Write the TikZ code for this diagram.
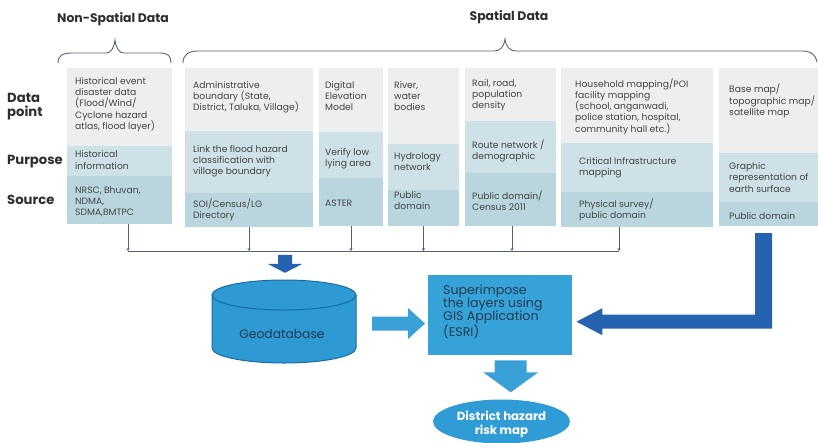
\documentclass[tikz,border=0pt]{standalone}
\usepackage{fontspec}
\setmainfont{Poppins}
\usetikzlibrary{arrows.meta,calc,fit,shapes.geometric}
\definecolor{rowA}{HTML}{ECEEEF}
\definecolor{rowB}{HTML}{CDE1E7}
\definecolor{rowC}{HTML}{B9D6DE}
\definecolor{txtgray}{HTML}{444444}
\definecolor{txtdark}{HTML}{2E2E2E}
\definecolor{linecol}{HTML}{50637A}
\definecolor{bracecol}{HTML}{5A6470}
\definecolor{dkblue}{HTML}{2563B0}
\definecolor{cylfill}{HTML}{2E9AD3}
\definecolor{cyledge}{HTML}{1A6AA6}
\definecolor{supfill}{HTML}{36A3D8}
\definecolor{ltarrow}{HTML}{39A1D7}
\definecolor{ellfill}{HTML}{2F9CD5}
\definecolor{suptext}{HTML}{24394F}

\newcommand\mkcol[6]{%
  \node[cellA, fit={(#2,68) (#3,#4)}] (#1d) {};
  \node[cellB, fit={(#2,#4) (#3,#5)}] (#1p) {};
  \node[cellC, fit={(#2,#5) (#3,#6)}] (#1s) {};
}
\newcommand\fatdown[6]{%
  \fill[#6] let \p1=(#1), \p2=(#2) in
   (\x1-#3,\y1) -- (\x1+#3,\y1) -- (\x1+#3,\y2+#5) -- (\x1+#4,\y2+#5) -- (\x1,\y2)
   -- (\x1-#4,\y2+#5) -- (\x1-#3,\y2+#5) -- cycle;}
\newcommand\fatright[6]{%
  \fill[#6] let \p1=(#1), \p2=(#2) in
   (\x1,\y1+#3) -- (\x2-#5,\y1+#3) -- (\x2-#5,\y1+#4) -- (\x2,\y1) -- (\x2-#5,\y1-#4)
   -- (\x2-#5,\y1-#3) -- (\x1,\y1-#3) -- cycle;}

\begin{document}
\begin{tikzpicture}[x=1pt,y=-1pt,
  cellA/.style={fill=rowA, inner sep=0pt, outer sep=0pt},
  cellB/.style={fill=rowB, inner sep=0pt, outer sep=0pt},
  cellC/.style={fill=rowC, inner sep=0pt, outer sep=0pt},
  txt/.style={anchor=west, align=left, inner sep=0pt, text=txtgray, font=\fontsize{9.2}{11.2}\selectfont},
  lab/.style={anchor=west, align=left, inner sep=0pt, text=txtdark, font=\bfseries\fontsize{13.2}{14}\selectfont},
  head/.style={inner sep=0pt, text=txtdark, font=\bfseries\fontsize{12.4}{13}\selectfont},
  brace/.style={draw=bracecol, line width=0.9pt},
  conn/.style={draw=linecol, line width=1pt},
  vconn/.style={draw=linecol, line width=1pt, -{Stealth[length=3pt,width=3.2pt]}},
]
\useasboundingbox (0,0) rectangle (818,442);

% headings
\node[head] (hns) at (113,19) {Non-Spatial Data};
\node[head] (hsp) at (509,17) {Spatial Data};

% braces
\draw[brace] (58,63) .. controls (58,56) and (62,53) .. (72,53) -- (106,53)
  .. controls (111,53) and (114,48) .. (115,40) .. controls (116,48) and (119,53) .. (124,53)
  -- (160,53) .. controls (168,53) and (171,56) .. (171,63);
\draw[brace] (183,63) .. controls (183,55) and (188,51) .. (198,51) -- (494,51)
  .. controls (500,51) and (504,47) .. (505,39) .. controls (506,47) and (510,51) .. (516,51)
  -- (802,51) .. controls (811,51) and (816,55) .. (817,62);

% row labels
\node[lab] (ldp) at (7,107) {Data\\point};
\node[lab] (lpu) at (7,162) {Purpose};
\node[lab] (lso) at (7,200) {Source};

% columns
\mkcol{c1}{67}{172}{146}{176}{224}
\mkcol{c2}{185}{313}{131}{193}{227}
\mkcol{c3}{319}{383}{132}{178}{226}
\mkcol{c4}{388}{459}{144}{190}{226}
\mkcol{c5}{465}{556}{121}{173}{226}
\mkcol{c6}{561}{713}{143}{192}{227}
\mkcol{c7}{719}{818}{153}{202}{226}

% column texts
\node[txt] (c1dt) at (75,104.5) {Historical event\\disaster data\\(Flood/Wind/\\Cyclone hazard\\atlas, flood layer)};
\node[txt] (c1pt) at (75,160) {Historical\\information};
\node[txt] (c1st) at (75,202) {NRSC, Bhuvan,\\NDMA,\\SDMA,BMTPC};

\node[txt] (c2dt) at (193,97) {Administrative\\boundary (State,\\District, Taluka, Village)};
\node[txt] (c2pt) at (193,161.5) {Link the flood hazard\\classification with\\village boundary};
\node[txt] (c2st) at (193,209.5) {SOI/Census/LG\\Directory};

\node[txt] (c3dt) at (325,96) {Digital\\Elevation\\Model};
\node[txt] (c3pt) at (325,158.5) {Verify low\\lying area};
\node[txt] (c3st) at (325,203) {ASTER};

\node[txt] (c4dt) at (394,96) {River,\\water\\bodies};
\node[txt] (c4pt) at (394,162) {Hydrology\\network};
\node[txt] (c4st) at (394,200.5) {Public\\domain};

\node[txt] (c5dt) at (472,95) {Rail, road,\\population\\density};
\node[txt] (c5pt) at (472,151) {Route network /\\demographic};
\node[txt] (c5st) at (472,200.5) {Public domain/\\Census 2011};

\node[txt] (c6dt) at (575,106.5) {Household mapping/POI\\facility mapping\\(school, anganwadi,\\police station, hospital,\\community hall etc.)};
\node[txt] (c6pt) at (579,168) {Critical Infrastructure\\mapping};
\node[txt] (c6st) at (579,210) {Physical survey/\\public domain};

\node[txt] (c7dt) at (729,101) {Base map/\\topographic map/\\satellite map};
\node[txt] (c7pt) at (729,177.5) {Graphic\\representation of\\earth surface};
\node[txt] (c7st) at (729,216) {Public domain};

% collector line
\coordinate (h1) at (128,251);
\coordinate (h6) at (619,251);
\draw[conn] (h1) -- (h6);
\draw[vconn] (c1s.south -| h1) -- (h1);
\draw[vconn] (c2s.south) -- (c2s.south |- h1);
\draw[vconn] (c3s.south) -- (c3s.south |- h1);
\draw[vconn] (c4s.south) -- (c4s.south |- h1);
\draw[vconn] ($(c5s.south)+(1.5,0)$) -- ($(c5s.south |- h1)+(1.5,0)$);
\draw[vconn] (c6s.south -| h6) -- (h6);

% geodatabase
\node[inner sep=0pt, minimum width=144pt, minimum height=83pt] (geo) at (284,321.5) {};
\fill[cylfill] (212,295) -- (212,348) arc[start angle=180, end angle=360, x radius=72pt, y radius=15pt]
  -- (356,295) arc[start angle=0, end angle=180, x radius=72pt, y radius=15pt] -- cycle;
\draw[cyledge, line width=1pt] (212,295) -- (212,348) arc[start angle=180, end angle=360, x radius=72pt, y radius=15pt] -- (356,295);
\draw[cyledge, line width=1pt, fill=cylfill] (284,295) ellipse [x radius=72pt, y radius=15pt];
\node[inner sep=0pt, text=suptext, font=\fontsize{12.3}{13}\selectfont] (geot) at (282,334) {Geodatabase};

% superimpose
\node[fill=supfill, anchor=north west, inner sep=0pt, minimum width=144pt, minimum height=80pt] (sup) at (428,275) {};
\node[anchor=west, align=left, inner sep=0pt, text=suptext, font=\fontsize{12.6}{13.3}\selectfont] (supt) at (443,312)
  {Superimpose\\the layers using\\GIS Application\\(ESRI)};

% result ellipse
\node[ellipse, fill=ellfill, inner sep=0pt, minimum width=137pt, minimum height=44pt] (ell) at (501.5,421.5) {};
\node[align=center, inner sep=0pt, text=white, font=\bfseries\fontsize{11.8}{14}\selectfont] (ellt) at (501.5,424) {District hazard\\risk map};

% fat arrows
\fatdown{$(geo.north)+(1,-25)$}{$(geo.north)+(1,-7)$}{7pt}{17.5pt}{9pt}{dkblue}
\fatright{$(geo.east)+(16,2)$}{$(sup.west)+(-3,2)$}{7pt}{15.5pt}{17pt}{ltarrow}
\fatdown{$(sup.south)+(10.5,5)$}{$(ell.north)+(9.5,-7)$}{16pt}{27.5pt}{20pt}{ltarrow}
\fill[dkblue] let \p1=($(c7s.south)+(-5,7)$), \p2=($(sup.east)+(4,6.5)$) in
  (\x1-8.5pt,\y1) -- (\x1+8.5pt,\y1) -- (\x1+8.5pt,\y2-7pt) -- (\x2+26pt,\y2-7pt)
  -- (\x2+26pt,\y2-13.5pt) -- (\x2,\y2) -- (\x2+26pt,\y2+13.5pt) -- (\x2+26pt,\y2+7pt)
  -- (\x1-8.5pt,\y2+7pt) -- cycle;
\end{tikzpicture}
\end{document}
